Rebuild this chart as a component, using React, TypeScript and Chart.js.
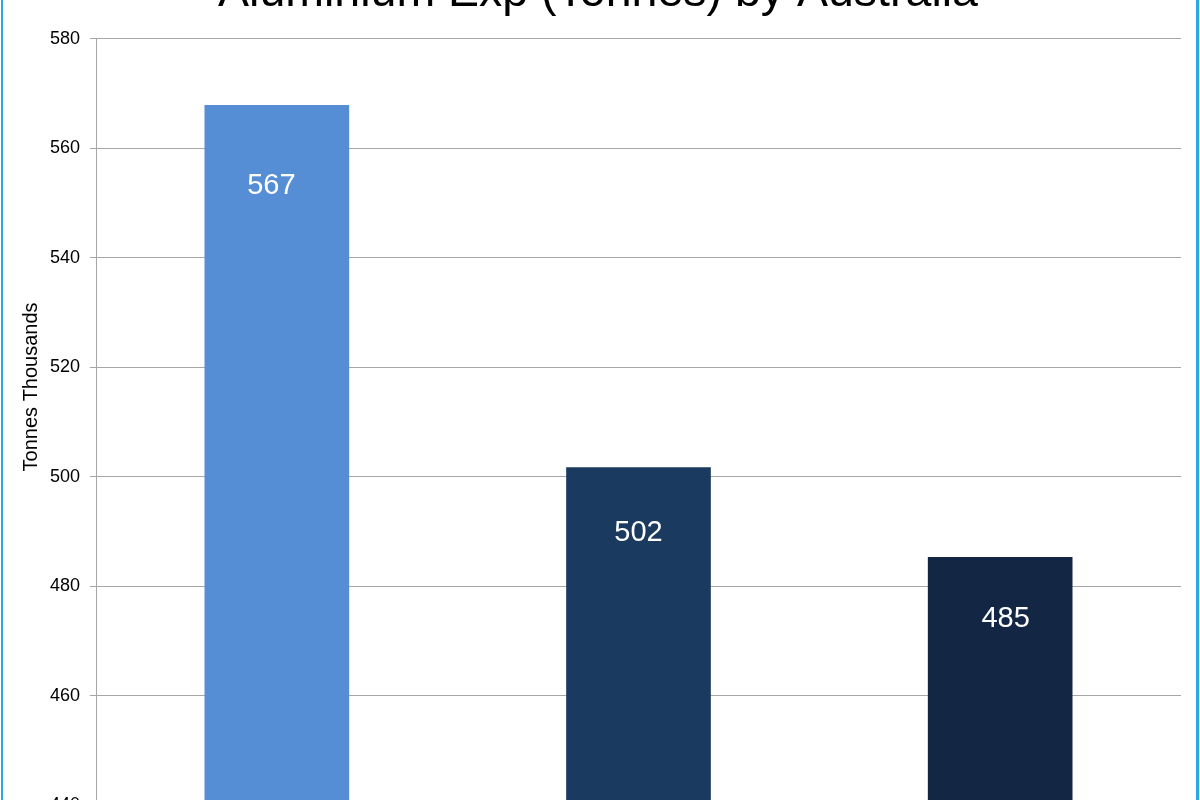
import React, { useEffect, useRef } from "react";
import { Chart, registerables } from "chart.js";

Chart.register(...registerables);

const TITLE = "Aluminium Exp (Tonnes) by Australia";
const Y_TITLE = "Tonnes Thousands";
const categories = ["2011", "2012", "2013"];
const values = [567.9, 501.7, 485.3];
const valueLabels = ["567", "502", "485"];
const barColors = ["#558ED5", "#1B3A5F", "#132744"];
const Y_MIN = 440;
const Y_MAX = 580;
const Y_STEP = 20;

const FONT = "'Liberation Sans', Arial, Helvetica, sans-serif";
const CANVAS_W = 1200;
const CANVAS_H = 920;
const CANVAS_TOP = -60;

const barLabelPlugin = {
  id: "barLabels",
  afterDatasetsDraw(chart: any) {
    const ctx = chart.ctx;
    const meta = chart.getDatasetMeta(0);
    const area = chart.chartArea;
    const cx = (area.left + area.right) / 2;
    ctx.save();
    ctx.fillStyle = "#ffffff";
    ctx.font = `29px ${FONT}`;
    ctx.textAlign = "center";
    ctx.textBaseline = "middle";
    meta.data.forEach((bar: any, i: number) => {
      const h = area.bottom - bar.y;
      const y = bar.y + 51.6 + 0.042 * h;
      const x = bar.x + (bar.x - cx) * 0.015;
      ctx.fillText(valueLabels[i], x, y);
    });
    ctx.restore();
  },
};

const yTitlePlugin = {
  id: "yTitle",
  afterDraw(chart: any) {
    const ctx = chart.ctx;
    const area = chart.chartArea;
    const cy = (area.top + area.bottom) / 2 - 35;
    ctx.save();
    ctx.translate(31, cy);
    ctx.rotate(-Math.PI / 2);
    ctx.fillStyle = "#000000";
    ctx.font = `20px ${FONT}`;
    ctx.textAlign = "center";
    ctx.textBaseline = "middle";
    ctx.fillText(Y_TITLE, 0, 0);
    ctx.restore();
  },
};

export default function App() {
  const canvasRef = useRef<HTMLCanvasElement | null>(null);

  useEffect(() => {
    if (!canvasRef.current) return;
    const chart = new Chart(canvasRef.current, {
      type: "bar",
      data: {
        labels: categories,
        datasets: [
          {
            data: values,
            backgroundColor: barColors,
            borderWidth: 0,
            barPercentage: 0.4,
            categoryPercentage: 1.0,
          },
        ],
      },
      options: {
        responsive: false,
        animation: false,
        devicePixelRatio: 1,
        layout: { padding: { left: 15, right: 19, top: 0, bottom: 15 } },
        plugins: {
          legend: { display: false },
          tooltip: { enabled: false },
          title: {
            display: true,
            text: TITLE,
            color: "#000000",
            font: { family: FONT, size: 46.5, weight: "normal" },
            padding: { top: 25, bottom: 18 },
          },
        },
        scales: {
          x: {
            grid: { display: false },
            border: { display: true, color: "#A6A6A6" },
            ticks: { color: "#000000", font: { family: FONT, size: 18 } },
            afterFit: (s: any) => {
              s.height = 40;
            },
          },
          y: {
            min: Y_MIN,
            max: Y_MAX,
            ticks: {
              stepSize: Y_STEP,
              color: "#000000",
              padding: 10,
              font: { family: FONT, size: 18 },
            },
            grid: { color: "#A6A6A6", tickLength: 6, lineWidth: 1 },
            border: { display: true, color: "#A6A6A6" },
            title: { display: false },
            afterFit: (s: any) => {
              s.width = 81;
            },
          },
        },
      },
      plugins: [barLabelPlugin, yTitlePlugin],
    } as any);
    return () => chart.destroy();
  }, []);

  return (
    <div
      style={{
        position: "fixed",
        left: 0,
        top: 0,
        width: 1200,
        height: 800,
        overflow: "hidden",
        background: "#ffffff",
      }}
    >
      <canvas
        ref={canvasRef}
        width={CANVAS_W}
        height={CANVAS_H}
        style={{
          position: "absolute",
          left: 0,
          top: CANVAS_TOP,
          width: CANVAS_W,
          height: CANVAS_H,
        }}
      />
      <div
        style={{
          position: "absolute",
          left: 1,
          top: -10,
          width: 1198,
          height: 820,
          boxSizing: "border-box",
          borderLeft: "2px solid #2CA8E0",
          borderRight: "3px solid #2CA8E0",
          pointerEvents: "none",
        }}
      />
    </div>
  );
}
